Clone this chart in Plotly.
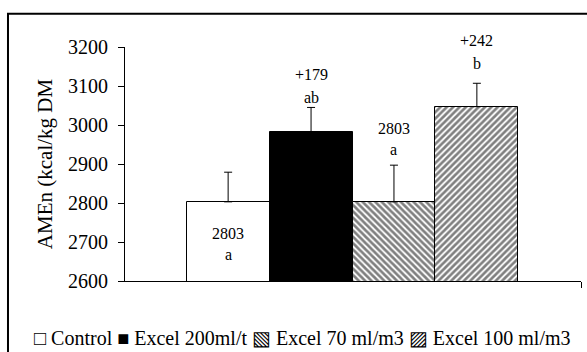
import plotly.graph_objects as go

# ---- data ----
series_names = ["Control", "Excel 200ml/t", "Excel 70 ml/m3", "Excel 100 ml/m3"]
amen_values = [2803, 2982, 2803, 3047]
error_values = [76, 63, 94, 60]
label_top = ["2803", "+179", "2803", "+242"]
label_letter = ["a", "ab", "a", "b"]
y_ticks = [2600, 2700, 2800, 2900, 3000, 3100, 3200]

# ---- styles ----
fill_colors = ["white", "black", "white", "white"]
patterns = ["", "", "\\", "/"]
FONT = "Liberation Serif"

fig = go.Figure()
for i, name in enumerate(series_names):
    fig.add_trace(go.Bar(
        x=[i], y=[amen_values[i]], name=name, width=1,
        marker=dict(color=fill_colors[i],
                    line=dict(color="black", width=1),
                    pattern=dict(shape=patterns[i], fgcolor="black",
                                 bgcolor="white", size=4.5, solidity=0.6)),
        error_y=dict(type="data", symmetric=False, array=[error_values[i]],
                     arrayminus=[0], color="black", thickness=1, width=4),
        showlegend=False,
    ))

ann = []
for i in range(4):
    top = amen_values[i] + error_values[i]
    if i == 0:
        ann.append(dict(x=i, y=amen_values[i], text=label_top[i], yshift=-32))
        ann.append(dict(x=i, y=amen_values[i], text=label_letter[i], yshift=-53))
    else:
        shifts = {1: (33, 10), 2: (37, 16), 3: (43, 20)}[i]
        ann.append(dict(x=i, y=top, text=label_top[i], yshift=shifts[0]))
        ann.append(dict(x=i, y=top, text=label_letter[i], yshift=shifts[1]))
for a in ann:
    a.update(xref="x", yref="y", showarrow=False, xanchor="center",
             yanchor="middle", font=dict(family=FONT, size=16, color="black"))
    fig.add_annotation(**a)

# legend line as text
fig.add_annotation(
    xref="paper", yref="paper", x=0.3886, y=-0.245, xanchor="center",
    yanchor="middle", showarrow=False,
    text="□ Control ■ Excel 200ml/t ▧ Excel 70 ml/m3 ▨ Excel 100 ml/m3",
    font=dict(family=FONT, size=20, color="black"),
)

# outer frame
fig.add_shape(type="rect", xref="paper", yref="paper",
              x0=-0.2566, x1=1.2, y0=-0.6, y1=1.1418,
              line=dict(color="black", width=2), fillcolor="rgba(0,0,0,0)",
              layer="below")

fig.update_layout(
    width=587, height=352,
    margin=dict(l=125, r=6, t=47, b=71),
    paper_bgcolor="white", plot_bgcolor="white",
    barmode="overlay", bargap=0,
    font=dict(family=FONT, color="black"),
)
fig.update_xaxes(range=[-1.244, 4.256], showgrid=False, zeroline=False,
                 showline=True, linecolor="black", linewidth=1,
                 tickvals=[4.256], ticks="outside", ticklen=6,
                 tickcolor="black", showticklabels=False)
fig.update_yaxes(range=[2600, 3200], tickvals=y_ticks, showgrid=False,
                 zeroline=False, showline=True, linecolor="black", linewidth=1,
                 ticks="outside", ticklen=6, tickcolor="black",
                 ticklabelstandoff=6,
                 tickfont=dict(family=FONT, size=20, color="black"),
                 title=dict(text="AMEn (kcal/kg DM", standoff=9,
                            font=dict(family=FONT, size=21, color="black")))

fig.write_html("out.html", config={"displayModeBar": False},
               post_script="document.body.style.margin='0px';")
